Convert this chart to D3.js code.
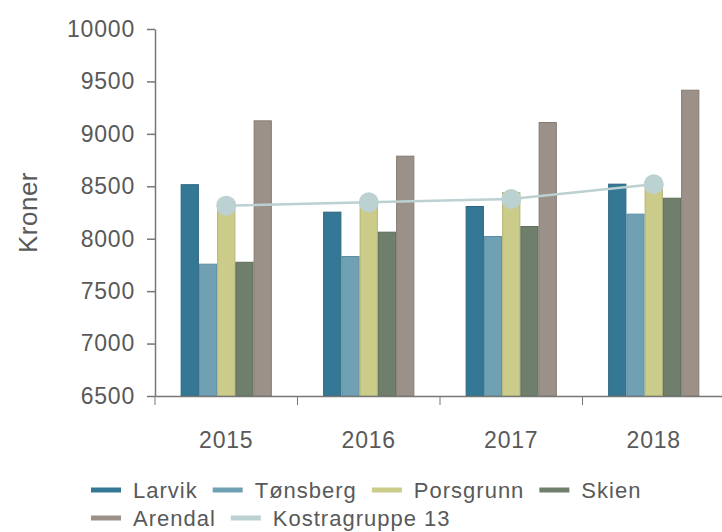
<!DOCTYPE html>
<html>
<head>
<meta charset="utf-8">
<script src="https://cdn.jsdelivr.net/npm/d3@7"></script>
<style>
  body { margin: 0; background: #fff; }
  text { font-family: "Liberation Sans", Arial, sans-serif; fill: #595959; }
</style>
</head>
<body>
<div id="chart"></div>
<script>
var years = ["2015", "2016", "2017", "2018"];
var series = ["Larvik", "Tønsberg", "Porsgrunn", "Skien", "Arendal"];
var larvik    = [8520, 8258, 8312, 8525];
var tonsberg  = [7762, 7835, 8026, 8239];
var porsgrunn = [8340, 8360, 8445, 8541];
var skien     = [7780, 8067, 8121, 8391];
var arendal   = [9129, 8792, 9113, 9421];
var kostra    = [8315, 8347, 8379, 8519];
var yTicks = [6500, 7000, 7500, 8000, 8500, 9000, 9500, 10000];

var colors = ["#347895", "#6fa0b3", "#cbcb8a", "#6f7f6b", "#9b9188"];
var strokes = ["#2a6680", "#5d8ea1", "#b5b574", "#5e6d5a", "#867c73"];
var kostraColor = "#bcd1d1";

var barData = [larvik, tonsberg, porsgrunn, skien, arendal];

var svg = d3.select("#chart").append("svg")
    .attr("width", 722)
    .attr("height", 532),
    margin = {top: 29, right: -3, bottom: 136, left: 155},
    width = 722 - margin.left - margin.right,
    height = 532 - margin.top - margin.bottom;

var g = svg.append("g")
    .attr("transform", "translate(" + margin.left + "," + margin.top + ")");

var x0 = d3.scaleBand().domain(years).range([0, width]).paddingInner(0.36).paddingOuter(0.18);
var x1 = d3.scaleBand().domain(series).range([0, x0.bandwidth()]);
var y = d3.scaleLinear().domain([6500, 10000]).range([height, 0]);
var xb = d3.scaleBand().domain(years).range([0, width]);

// bars
years.forEach(function(yr, i) {
    g.append("g")
        .attr("transform", "translate(" + x0(yr) + ",0)")
        .selectAll("rect")
        .data(series)
        .enter().append("rect")
            .attr("x", function(s) { return x1(s) + 0.5; })
            .attr("y", function(s, j) { return y(barData[j][i]) + 0.5; })
            .attr("width", x1.bandwidth() - 1)
            .attr("height", function(s, j) { return height - y(barData[j][i]) - 0.5; })
            .attr("fill", function(s, j) { return colors[j]; })
            .attr("stroke", function(s, j) { return strokes[j]; })
            .attr("stroke-width", 1);
});

// Kostragruppe line
var line = d3.line()
    .x(function(d, i) { return xb(years[i]) + xb.bandwidth() / 2; })
    .y(function(d) { return y(d); });

g.append("path")
    .datum(kostra)
    .attr("d", line)
    .attr("fill", "none")
    .attr("stroke", kostraColor)
    .attr("stroke-width", 2.5);

g.selectAll(".dot")
    .data(kostra)
    .enter().append("circle")
        .attr("class", "dot")
        .attr("cx", function(d, i) { return xb(years[i]) + xb.bandwidth() / 2; })
        .attr("cy", function(d) { return y(d); })
        .attr("r", 10)
        .attr("fill", kostraColor);

// axes
var axisColor = "#777";
var yAxis = g.append("g")
    .call(d3.axisLeft(y).tickValues(yTicks).tickFormat(d3.format("d"))
        .tickSize(8).tickSizeOuter(0).tickPadding(12));
yAxis.selectAll("text").style("font-size", "23px").style("letter-spacing", "0.8px").attr("fill", "#595959");

var xAxis = g.append("g")
    .attr("transform", "translate(0," + height + ")")
    .call(d3.axisBottom(xb).tickSize(0).tickSizeOuter(0).tickPadding(36));
xAxis.selectAll("text").style("font-size", "23px").style("letter-spacing", "0.8px").attr("fill", "#595959");

// tick marks between categories
g.append("g")
    .selectAll("line")
    .data(years)
    .enter().append("line")
        .attr("x1", function(d) { return xb(d); })
        .attr("x2", function(d) { return xb(d); })
        .attr("y1", height)
        .attr("y2", height + 9)
        .attr("stroke", axisColor);

g.selectAll(".domain, .tick line").attr("stroke", axisColor).attr("stroke-width", 1.5);

// y label
svg.append("text")
    .attr("transform", "translate(37," + (margin.top + y(8250)) + ") rotate(-90)")
    .attr("text-anchor", "middle")
    .style("font-size", "26px")
    .style("letter-spacing", "0.5px")
    .text("Kroner");

// legend
var legendItems = series.map(function(s, i) { return {name: s, color: colors[i]}; })
    .concat([{name: "Kostragruppe 13", color: kostraColor}]);
var legend = svg.append("g");
var lx = 91, ly = 490, maxX = 690;
legendItems.forEach(function(d) {
    var item = legend.append("g");
    item.append("line")
        .attr("x1", 0).attr("x2", 30)
        .attr("y1", 0).attr("y2", 0)
        .attr("stroke", d.color)
        .attr("stroke-width", 5);
    var t = item.append("text")
        .attr("x", 42)
        .attr("y", 8)
        .style("font-size", "22px")
        .style("letter-spacing", "1px")
        .text(d.name);
    var w = 42 + t.node().getComputedTextLength() + 15;
    if (lx + w > maxX) { lx = 91; ly += 28; }
    item.attr("transform", "translate(" + lx + "," + ly + ")");
    lx += w;
});
</script>
</body>
</html>
